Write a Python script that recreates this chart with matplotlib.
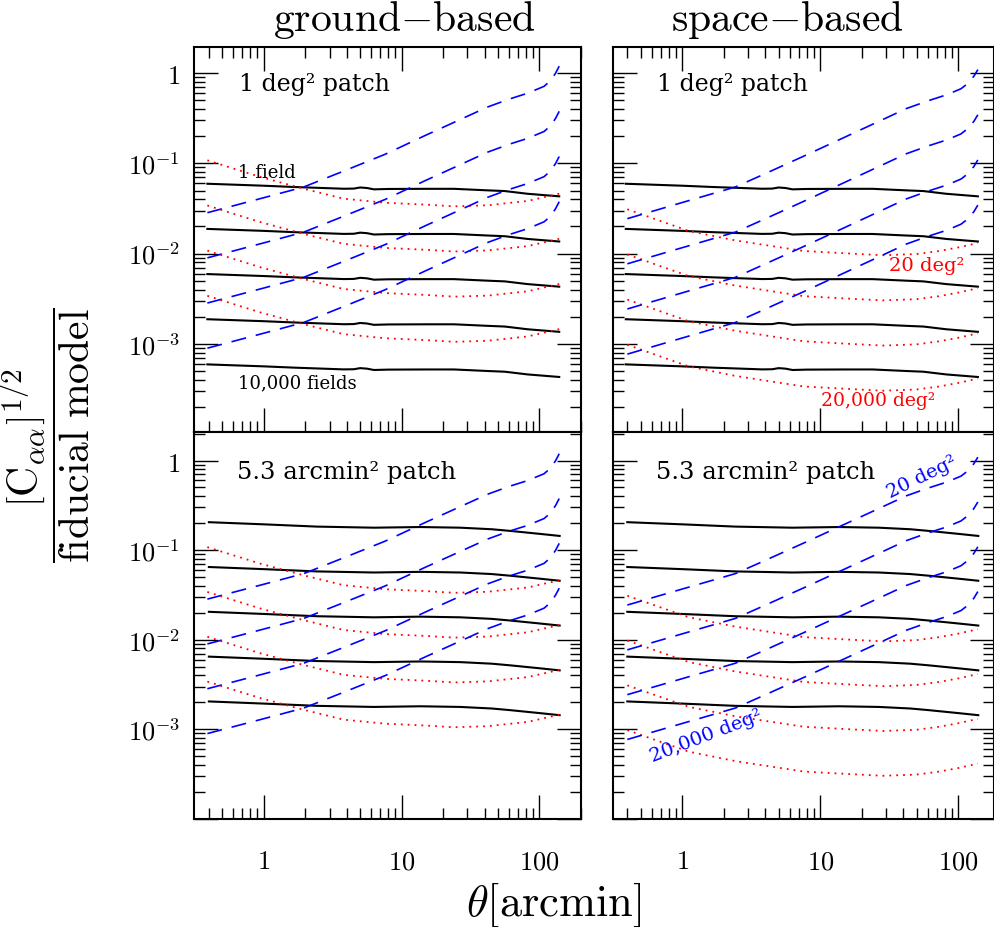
import numpy as np
import matplotlib
matplotlib.use('Agg')
import matplotlib.pyplot as plt
from matplotlib.ticker import LogLocator, NullFormatter, FixedLocator, FixedFormatter

plt.rcParams['mathtext.fontset'] = 'cm'

# sample variance of a single patch (black), one field
patch_deg_theta = [0.39, 1.0, 1.65, 3.8, 4.5, 5.0, 5.6, 6.3, 8.0, 15, 24, 42, 56, 82, 139]
patch_deg_val = [0.0594, 0.0565, 0.0547, 0.0523, 0.0525, 0.0540, 0.0533, 0.0515, 0.052,
                 0.0522, 0.0522, 0.0502, 0.0493, 0.046, 0.0431]
patch_am_theta = [0.4, 1.0, 2.43, 6.3, 13.7, 26.6, 45, 61, 100, 140]
patch_am_val = [0.205, 0.194, 0.183, 0.178, 0.181, 0.178, 0.171, 0.164, 0.152, 0.144]

# shape noise (red), 20 deg^2 survey
noise_ground_theta = [0.39, 0.6, 0.95, 1.95, 3.8, 7.6, 15, 24, 42, 82, 139]
noise_ground_val = [0.108, 0.0877, 0.0705, 0.0523, 0.0406, 0.0366, 0.0349, 0.0334,
                    0.0343, 0.0383, 0.0461]
noise_space_theta = [0.4, 0.7, 1.12, 2.43, 4.5, 7.6, 15, 28.5, 50, 73, 100, 139]
noise_space_val = [0.031, 0.0229, 0.0178, 0.014, 0.0121, 0.0107, 0.0101, 0.0096,
                   0.0099, 0.0107, 0.0117, 0.0131]

# cosmic variance (blue), 20 deg^2 survey
cv_ground_theta = [0.39, 1.0, 1.95, 4.0, 7.6, 15, 30, 42, 60, 80, 92, 108, 121, 131, 139]
cv_ground_val = [0.0284, 0.0416, 0.0547, 0.0847, 0.126, 0.205, 0.332, 0.42, 0.513,
                 0.59, 0.643, 0.712, 0.83, 1.0, 1.19]
cv_space_theta = [0.4, 1.0, 2.43, 4.0, 7.6, 15, 30, 42, 60, 80, 92, 105, 118, 130, 139]
cv_space_val = [0.0244, 0.0368, 0.0547, 0.0769, 0.12, 0.194, 0.317, 0.403, 0.49,
                0.565, 0.615, 0.67, 0.77, 0.92, 1.09]

n_fields = [1, 10, 100, 1000, 10000]
survey_area = [20, 200, 2000, 20000]   # deg^2

W, H = 995, 928
fig = plt.figure(figsize=(W / 100, H / 100), dpi=100)


def box(x0, y0, x1, y1):
    return [x0 / W, 1 - y1 / H, (x1 - x0) / W, (y1 - y0) / H]


ax_tl = fig.add_axes(box(194, 48, 581, 433))
ax_tr = fig.add_axes(box(613, 48, 994, 433))
ax_bl = fig.add_axes(box(194, 433, 581, 820))
ax_br = fig.add_axes(box(613, 433, 994, 820))

panels = [
    (ax_tl, patch_deg_theta, patch_deg_val, noise_ground_theta, noise_ground_val,
     cv_ground_theta, cv_ground_val, (0.312, 200), (1.06e-4, 1.94)),
    (ax_tr, patch_deg_theta, patch_deg_val, noise_space_theta, noise_space_val,
     cv_space_theta, cv_space_val, (0.315, 182), (1.06e-4, 1.94)),
    (ax_bl, patch_am_theta, patch_am_val, noise_ground_theta, noise_ground_val,
     cv_ground_theta, cv_ground_val, (0.312, 200), (1.0e-4, 2.08)),
    (ax_br, patch_am_theta, patch_am_val, noise_space_theta, noise_space_val,
     cv_space_theta, cv_space_val, (0.315, 182), (1.0e-4, 2.08)),
]

for ax, bt, bv, rt, rv, ct, cv, xl, yl in panels:
    for n in n_fields:
        ax.plot(bt, np.array(bv) / np.sqrt(n), color='k', lw=1.5, solid_joinstyle='round')
    for a in survey_area:
        f = np.sqrt(survey_area[0] / a)
        ax.plot(rt, np.array(rv) * f, color='#ff0000', lw=1.3, ls=(0, (1, 2.8)))
        ax.plot(ct, np.array(cv) * f, color='#0000ff', lw=1.2, ls=(0, (9, 6)))
    ax.set_xscale('log')
    ax.set_yscale('log')
    ax.set_xlim(*xl)
    ax.set_ylim(*yl)
    ax.xaxis.set_major_locator(FixedLocator([1, 10, 100]))
    ax.xaxis.set_minor_locator(LogLocator(subs=np.arange(2, 10), numticks=20))
    ax.yaxis.set_major_locator(FixedLocator([1e-4, 1e-3, 1e-2, 1e-1, 1]))
    ax.yaxis.set_minor_locator(LogLocator(subs=np.arange(2, 10), numticks=20))
    ax.xaxis.set_minor_formatter(NullFormatter())
    ax.yaxis.set_minor_formatter(NullFormatter())
    ax.tick_params(which='both', direction='in', top=True, right=True)
    ax.tick_params(which='major', length=17, width=1.0)
    ax.tick_params(which='minor', length=8, width=1.0)
    for s in ax.spines.values():
        s.set_linewidth(1.5)

for ax in (ax_bl, ax_br):
    ax.tick_params(which='both', top=False)
    ax.xaxis.set_major_formatter(FixedFormatter([r'$1$', r'$10$', r'$100$']))
    ax.tick_params(axis='x', labelsize=19, pad=21)
for ax in (ax_tl, ax_tr):
    ax.tick_params(axis='x', labelbottom=False)
for ax in (ax_tl, ax_bl):
    ax.yaxis.set_major_formatter(FixedFormatter(['', r'$10^{-3}$', r'$10^{-2}$',
                                                 r'$10^{-1}$', r'$1$']))
    ax.tick_params(axis='y', labelsize=19, pad=10)
for ax in (ax_tr, ax_br):
    ax.tick_params(axis='y', labelleft=False)

lab = dict(family='DejaVu Serif', color='k')
for ax in (ax_tl, ax_tr):
    ax.text(0.115, 0.905, '1 deg² patch', transform=ax.transAxes, fontsize=17,
            va='center', **lab)
for ax in (ax_bl, ax_br):
    ax.text(0.112, 0.897, '5.3 arcmin² patch', transform=ax.transAxes, fontsize=17.5,
            va='center', **lab)
ax_tl.text(0.114, 0.675, '1 field', transform=ax_tl.transAxes, fontsize=13,
           va='center', **lab)
ax_tl.text(0.114, 0.130, '10,000 fields', transform=ax_tl.transAxes, fontsize=13,
           va='center', **lab)
ax_tr.text(0.724, 0.434, '20 deg²', transform=ax_tr.transAxes, fontsize=14,
           va='center', family='DejaVu Serif', color='#ff0000')
ax_tr.text(0.546, 0.083, '20,000 deg²', transform=ax_tr.transAxes, fontsize=13.5,
           va='center', family='DejaVu Serif', color='#ff0000')
ax_br.text(0.811, 0.886, '20 deg²', transform=ax_br.transAxes, fontsize=14,
           ha='center', va='center', rotation=26, family='DejaVu Serif', color='#0000ff')
ax_br.text(0.244, 0.217, '20,000 deg²', transform=ax_br.transAxes, fontsize=14,
           ha='center', va='center', rotation=21, family='DejaVu Serif', color='#0000ff')

fig.text(404 / W, 1 - 20 / H, r'$\mathrm{ground{-}based}$', fontsize=30,
         ha='center', va='center')
fig.text(787 / W, 1 - 20 / H, r'$\mathrm{space{-}based}$', fontsize=30,
         ha='center', va='center')
fig.text(554 / W, 1 - 905 / H, r'$\theta[\mathrm{arcmin}]$', fontsize=32,
         ha='center', va='center')
fig.text(45 / W, 1 - 435 / H,
         r'$\dfrac{\left[\mathrm{C}_{\alpha\alpha}\right]^{1/2}}{\mathrm{fiducial\ model}}$',
         fontsize=30, rotation=90, ha='center', va='center')

fig.savefig('out.png', dpi=100)
